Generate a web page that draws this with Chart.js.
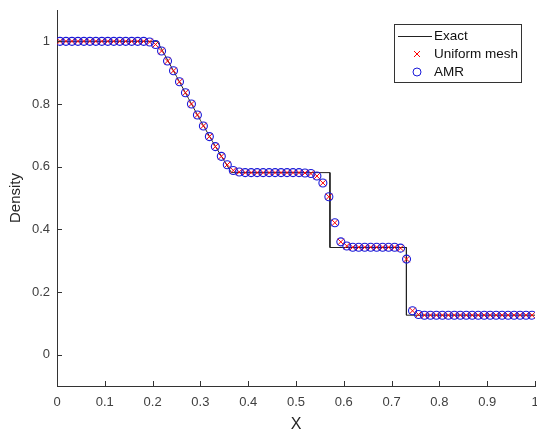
<!DOCTYPE html>
<html>
<head>
<meta charset="utf-8">
<script src="https://cdn.jsdelivr.net/npm/chart.js@4.4.1/dist/chart.umd.min.js"></script>
<style>
	body { margin: 0; background: #fff; }
	canvas { display: block; }
</style>
</head>
<body>
<canvas id="chart" width="537" height="434"></canvas>
<script>
// exact solution (black line)
const exactX = [0, 0.21, 0.225, 0.25, 0.275, 0.30, 0.325, 0.35, 0.365, 0.571, 0.571, 0.731, 0.731, 1];
const exactY = [1, 1, 0.958, 0.888, 0.818, 0.748, 0.681, 0.618, 0.581, 0.581, 0.342, 0.342, 0.126, 0.126];

// cell centres of the mesh
const cellX = [
	0.00625,0.01875,0.03125,0.04375,0.05625,0.06875,0.08125,0.09375,0.10625,0.11875,
	0.13125,0.14375,0.15625,0.16875,0.18125,0.19375,0.20625,0.21875,0.23125,0.24375,
	0.25625,0.26875,0.28125,0.29375,0.30625,0.31875,0.33125,0.34375,0.35625,0.36875,
	0.38125,0.39375,0.40625,0.41875,0.43125,0.44375,0.45625,0.46875,0.48125,0.49375,
	0.50625,0.51875,0.53125,0.54375,0.55625,0.56875,0.58125,0.59375,0.60625,0.61875,
	0.63125,0.64375,0.65625,0.66875,0.68125,0.69375,0.70625,0.71875,0.73125,0.74375,
	0.75625,0.76875,0.78125,0.79375,0.80625,0.81875,0.83125,0.84375,0.85625,0.86875,
	0.88125,0.89375,0.90625,0.91875,0.93125,0.94375,0.95625,0.96875,0.98125,0.99375
];

const uniformDensity = [
	1,1,1,1,1,1,1,1,1,1,
	1,1,1,1,1,0.998,0.99,0.969,0.937,0.906,
	0.871,0.836,0.800,0.765,0.730,0.696,0.664,0.633,0.606,0.588,
	0.583,0.581,0.581,0.581,0.581,0.581,0.581,0.581,0.581,0.581,
	0.581,0.580,0.578,0.570,0.548,0.504,0.421,0.360,0.347,0.343,
	0.343,0.343,0.343,0.343,0.343,0.343,0.343,0.340,0.305,0.140,
	0.128,0.126,0.126,0.126,0.126,0.126,0.126,0.126,0.126,0.126,
	0.126,0.126,0.126,0.126,0.126,0.126,0.126,0.126,0.126,0.126
];
// AMR markers sit right on top of the uniform ones
const amrDensity = [
	1,1,1,1,1,1,1,1,1,1,
	1,1,1,1,1,0.998,0.99,0.969,0.937,0.906,
	0.871,0.836,0.800,0.765,0.730,0.696,0.664,0.633,0.606,0.588,
	0.583,0.581,0.581,0.581,0.581,0.581,0.581,0.581,0.581,0.581,
	0.581,0.580,0.578,0.570,0.548,0.504,0.421,0.360,0.347,0.343,
	0.343,0.343,0.343,0.343,0.343,0.343,0.343,0.340,0.305,0.140,
	0.128,0.126,0.126,0.126,0.126,0.126,0.126,0.126,0.126,0.126,
	0.126,0.126,0.126,0.126,0.126,0.126,0.126,0.126,0.126,0.126
];

const xTicks = [0, 0.1, 0.2, 0.3, 0.4, 0.5, 0.6, 0.7, 0.8, 0.9, 1];
const yTicks = [0, 0.2, 0.4, 0.6, 0.8, 1];

const FONT = '"Liberation Sans", Arial, sans-serif';
const AXIS = '#333333';

function pts(xs, ys){
	return xs.map((x, i) => ({x: x, y: ys[i]}));
}

// MATLAB style ticks pointing into the plot
const innerTicks = {
	id: 'innerTicks',
	afterDraw(chart){
		const ctx = chart.ctx, a = chart.chartArea;
		const xs = chart.scales.x, ys = chart.scales.y;
		ctx.save();
		ctx.strokeStyle = AXIS;
		ctx.lineWidth = 1;
		ctx.beginPath();
		xs.ticks.forEach(t => {
			const px = Math.round(xs.getPixelForValue(t.value)) + 0.5;
			ctx.moveTo(px, a.bottom);
			ctx.lineTo(px, a.bottom - 5);
		});
		ys.ticks.forEach(t => {
			const py = Math.round(ys.getPixelForValue(t.value)) + 0.5;
			ctx.moveTo(a.left, py);
			ctx.lineTo(a.left + 5, py);
		});
		ctx.stroke();
		ctx.restore();
	}
};

// legend box in the top right corner of the axes
const boxLegend = {
	id: 'boxLegend',
	afterDraw(chart){
		const ctx = chart.ctx, a = chart.chartArea;
		const left = a.right - 141, top = a.top + 14, w = 127, h = 58;
		ctx.save();
		ctx.fillStyle = '#fff';
		ctx.fillRect(left, top, w, h);
		ctx.strokeStyle = AXIS;
		ctx.lineWidth = 1;
		ctx.strokeRect(left + 0.5, top + 0.5, w, h);
		ctx.font = '13.5px ' + FONT;
		ctx.textBaseline = 'middle';
		ctx.fillStyle = '#111';
		const ds = chart.data.datasets;
		[0, 1, 2].forEach((k, r) => {
			const d = ds[k];
			const cy = top + 12 + r * 18;
			const mx = left + 23;
			ctx.strokeStyle = d.borderColor;
			ctx.beginPath();
			if(k === 0){
				ctx.moveTo(left + 4, cy + 0.5);
				ctx.lineTo(left + 38, cy + 0.5);
			}else if(k === 1){
				ctx.moveTo(mx - 3, cy - 3); ctx.lineTo(mx + 3, cy + 3);
				ctx.moveTo(mx + 3, cy - 3); ctx.lineTo(mx - 3, cy + 3);
			}else{
				ctx.arc(mx, cy, 4, 0, Math.PI * 2);
			}
			ctx.stroke();
			ctx.fillText(d.label, left + 40, cy);
		});
		ctx.restore();
	}
};

new Chart(document.getElementById('chart'), {
	type: 'scatter',
	data: {
		datasets: [
			{
				label: 'Exact',
				data: pts(exactX, exactY),
				showLine: true,
				borderColor: '#222222',
				borderWidth: 1,
				pointRadius: 0,
				order: 3
			},
			{
				label: 'Uniform mesh',
				data: pts(cellX, uniformDensity),
				pointStyle: 'crossRot',
				pointRadius: 4.5,
				borderColor: '#ff0000',
				borderWidth: 1,
				order: 2
			},
			{
				label: 'AMR',
				data: pts(cellX, amrDensity),
				pointStyle: 'circle',
				pointRadius: 4,
				borderColor: '#1a1ad9',
				backgroundColor: 'rgba(0,0,0,0)',
				borderWidth: 1.1,
				order: 1
			}
		]
	},
	options: {
		responsive: false,
		animation: false,
		events: [],
		layout: { autoPadding: false, padding: { top: 10, right: 2, left: 0, bottom: 0 } },
		plugins: { legend: { display: false }, tooltip: { enabled: false } },
		scales: {
			x: {
				type: 'linear',
				min: 0,
				max: 1,
				grid: { display: false, drawTicks: false },
				border: { display: true, color: AXIS, width: 1 },
				afterBuildTicks: s => { s.ticks = xTicks.map(v => ({value: v})); },
				afterFit: s => { s.height = 48; s.paddingLeft = 0; s.paddingRight = 0; },
				ticks: {
					padding: 9,
					color: '#404040',
					font: { family: FONT, size: 13 },
					maxRotation: 0,
					callback: v => String(v)
				},
				title: {
					display: true,
					text: 'X',
					color: '#262626',
					font: { family: FONT, size: 16 },
					padding: { top: 0, bottom: 0 }
				}
			},
			y: {
				type: 'linear',
				min: -0.1,
				max: 1.1,
				grid: { display: false, drawTicks: false },
				border: { display: true, color: AXIS, width: 1 },
				afterBuildTicks: s => { s.ticks = yTicks.map(v => ({value: v})); },
				afterFit: s => { s.width = 57; s.paddingTop = 0; s.paddingBottom = 0; },
				ticks: {
					padding: 7,
					color: '#404040',
					font: { family: FONT, size: 13 },
					callback: v => String(v)
				},
				title: {
					display: true,
					text: 'Density',
					color: '#262626',
					font: { family: FONT, size: 15 },
					padding: { top: 7, bottom: 0 }
				}
			}
		}
	},
	plugins: [innerTicks, boxLegend]
});
</script>
</body>
</html>
